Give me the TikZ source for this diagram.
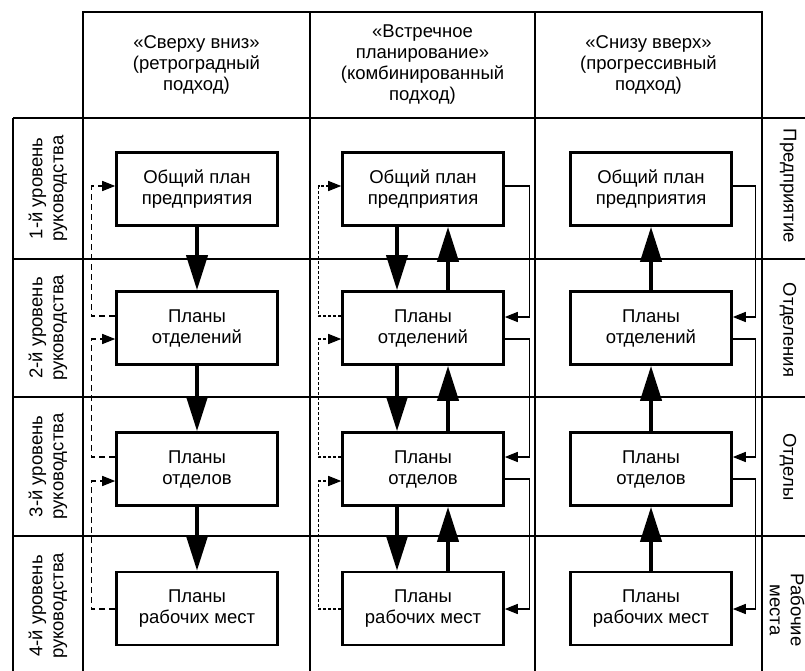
\documentclass[tikz,border=0pt]{standalone}
\usepackage{fontspec}
\setmainfont{Liberation Sans}
\usetikzlibrary{arrows.meta,calc}
\begin{document}
\begin{tikzpicture}[x=1pt,y=-1pt,
  font=\fontsize{18.5}{21}\selectfont,
  grid/.style={line width=1.5pt},
  planbox/.style={draw, line width=2.6pt, minimum width=161pt, minimum height=73pt,
    inner sep=0pt, align=center, fill=white},
  flow/.style={line width=4pt, -{Triangle[length=35pt,width=21pt]}},
  back/.style={line width=1.5pt, -{Triangle[length=13pt,width=10pt]}},
  backdash/.style={back, dash pattern=on 6pt off 4pt},
  backdot/.style={back, dash pattern=on 3pt off 2pt},
  hdr/.style={align=center},
  lvl/.style={align=center, rotate=90},
  unitlbl/.style={align=center, rotate=-90},
]
\useasboundingbox (0,0) rectangle (805,671);
\fill[white] (0,0) rectangle (805,671);

% header frame
\draw[grid] (83,118) -- (83,12) -- (762,12) -- (762,118);
\draw[grid] (310,12) -- (310,118);
\draw[grid] (535,12) -- (535,118);
% body rows
\foreach \yy in {118,259,397,536} \draw[grid] (13,\yy) -- (805,\yy);
% body columns
\foreach \xx in {13,83,310,535,762} \draw[grid] (\xx,118) -- (\xx,671);

% column headings
\node[hdr] (h1) at (196.5,65) {«Сверху вниз»\\(ретроградный\\подход)};
\node[hdr] (h2) at (422.5,65) {«Встречное\\планирование»\\(комбинированный\\подход)};
\node[hdr] (h3) at (648.5,65) {«Снизу вверх»\\(прогрессивный\\подход)};

% management levels
\node[lvl] (l1) at (48,188.5) {1-й уровень\\руководства};
\node[lvl] (l2) at (48,328) {2-й уровень\\руководства};
\node[lvl] (l3) at (48,466.5) {3-й уровень\\руководства};
\node[lvl] (l4) at (48,606) {4-й уровень\\руководства};

% organisational units
\node[unitlbl] (u1) at (788,186) {Предприятие};
\node[unitlbl] (u2) at (788,330) {Отделения};
\node[unitlbl] (u3) at (788,467) {Отделы};
\node[unitlbl] (u4) at (787,610) {Рабочие\\места};

% plan boxes, three columns
\foreach \col/\xx in {a/197,b/423,c/651}{
  \node[planbox] (\col1) at (\xx,189) {Общий план\\предприятия};
  \node[planbox] (\col2) at (\xx,328) {Планы\\отделений};
  \node[planbox] (\col3) at (\xx,469) {Планы\\отделов};
  \node[planbox] (\col4) at (\xx,608.5) {Планы\\рабочих мест};
}

% top-down: plans passed downward, feedback on the left
\draw[flow] (a1.south) -- (a2.north);
\draw[flow] (a2.south) -- (a3.north);
\draw[flow] (a3.south) -- (a4.north);
\draw[backdash] ($(a2.west)+(0,-12)$) -- ++(-23.5,0) |- ($(a1.west)+(0,-3)$);
\draw[backdash] ($(a3.west)+(0,-12)$) -- ++(-23.5,0) |- ($(a2.west)+(0,11)$);
\draw[backdash] ($(a4.west)+(0,0.5)$) -- ++(-23.5,0) |- ($(a3.west)+(0,12)$);

% combined: both directions
\foreach \u/\l in {1/2,2/3,3/4}{
  \draw[flow] ($(b\u.south)+(-26,0)$) -- ($(b\l.north)+(-26,0)$);
  \draw[flow] ($(b\l.north)+(25,0)$) -- ($(b\u.south)+(25,0)$);
}
\draw[backdot] ($(b2.west)+(0,-12)$) -- ++(-22.5,0) |- ($(b1.west)+(0,-3)$);
\draw[backdot] ($(b3.west)+(0,-12)$) -- ++(-22.5,0) |- ($(b2.west)+(0,11)$);
\draw[backdot] ($(b4.west)+(0,0.5)$) -- ++(-22.5,0) |- ($(b3.west)+(0,12)$);
\draw[back] ($(b1.east)+(0,-3)$) -- ++(24.5,0) |- ($(b2.east)+(0,-11)$);
\draw[back] ($(b2.east)+(0,11)$) -- ++(24.5,0) |- ($(b3.east)+(0,-12)$);
\draw[back] ($(b3.east)+(0,10)$) -- ++(24.5,0) |- ($(b4.east)+(0,0.5)$);

% bottom-up: plans passed upward
\draw[flow] (c2.north) -- (c1.south);
\draw[flow] (c3.north) -- (c2.south);
\draw[flow] (c4.north) -- (c3.south);
\draw[back] ($(c1.east)+(0,-3)$) -- ++(22.5,0) |- ($(c2.east)+(0,-11)$);
\draw[back] ($(c2.east)+(0,11)$) -- ++(22.5,0) |- ($(c3.east)+(0,-12)$);
\draw[back] ($(c3.east)+(0,10)$) -- ++(22.5,0) |- ($(c4.east)+(0,0.5)$);
\end{tikzpicture}
\end{document}
